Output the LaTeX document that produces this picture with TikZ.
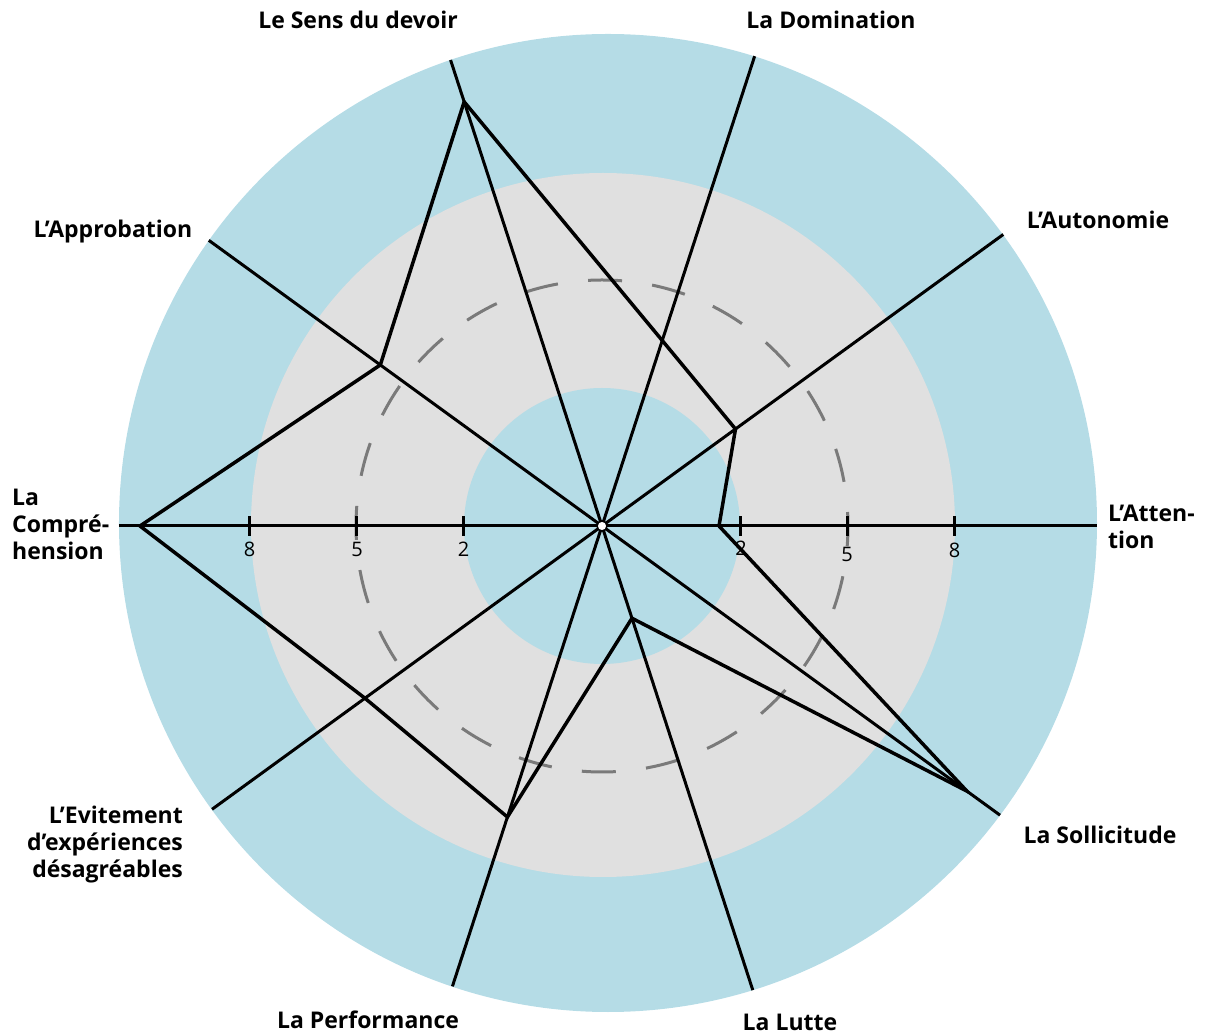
\documentclass[tikz,border=0pt]{standalone}
\usepackage{fontspec}
\setmainfont{Open Sans}
\usepackage{tikz}
\usetikzlibrary{calc}
\definecolor{ringblue}{HTML}{B5DCE6}
\definecolor{ringgray}{HTML}{E0E0E0}
\definecolor{dashgray}{HTML}{7A7A7A}
\tikzset{lbl/.style={font=\fontsize{23}{27}\selectfont\bfseries, inner sep=0pt}}
\tikzset{num/.style={font=\fontsize{20}{20}\selectfont, inner sep=0pt}}
\tikzset{axis/.style={line width=3pt}}
\tikzset{prof/.style={line width=3.5pt, line join=miter}}
\begin{document}
\begin{tikzpicture}[x=1pt, y=1pt]
    \useasboundingbox (-602,-509) rectangle (606,526);
    \fill[ringblue] (6,3) circle (489);
    \fill[ringgray] (1,1) circle (352);
    \fill[ringblue] (0,0) circle (138);
    \draw[dashgray, line width=3pt, dash pattern=on 34pt off 30.4pt, dash phase=20pt]
      (0,0) circle (246);
    % axes
    \foreach \a/\r in {0/495, 36/496, 72/494, 108/490, 144/486,
                       180/483, 216/482, 252/484, 288/488, 324/492} {
      \coordinate (ax\a) at (\a:\r);
    }
    \node[circle, inner sep=0pt, minimum size=10pt] (c) at (0,0) {};
    \foreach \a in {0,36,...,324} {
      \draw[axis] (c.center) -- (ax\a);
    }
    % ticks
    \foreach \x/\t in {138.5/2, 245/5, 352.5/8} {
      \draw[axis] (\x,-10) -- (\x,10);
      \draw[axis] (-\x,-10) -- (-\x,10);
      \node[num] (tl\t) at (-\x,-23) {\t};
    }
    \node[num] (tr2) at (139,-22) {2};
    \node[num] (tr5) at (245,-28) {5};
    \node[num] (tr8) at (352.5,-24) {8};
    % profile
    \foreach \a/\r [count=\i from 0] in {0/117, 36/165, 72/195, 108/446, 144/274,
                       180/462, 216/293, 252/306, 288/97, 324/451} {
      \coordinate (p\i) at (\a:\r);
    }
    \draw[prof] (p0) -- (p1) -- (p2) -- (p3) -- (p4) -- (p5) -- (p6)
      -- (p7) -- (p8) -- (p9) -- cycle;
    \node[circle, draw, fill=white, line width=1.5pt, inner sep=0pt,
      minimum size=10pt] (dot) at (c) {};
    % labels
    \node[lbl] (sens) at (-244,506) {Le Sens du devoir};
    \node[lbl] (domi) at (229,506) {La Domination};
    \node[lbl] (auto) at (496,306) {L’Autonomie};
    \node[lbl, anchor=west, align=left] (atte) at (506,-1) {L’Atten-\\tion};
    \node[lbl] (soll) at (498,-309) {La Sollicitude};
    \node[lbl] (lutt) at (188,-496) {La Lutte};
    \node[lbl] (perf) at (-234,-494) {La Performance};
    \node[lbl, anchor=east, align=right] (evit) at (-419,-319)
      {L’Evitement\\d’expériences\\désagréables};
    \node[lbl, anchor=west, align=left] (comp) at (-590,2) {La\\Compré-\\hension};
    \node[lbl] (appr) at (-489,294) {L’Approbation};
\end{tikzpicture}
\end{document}
